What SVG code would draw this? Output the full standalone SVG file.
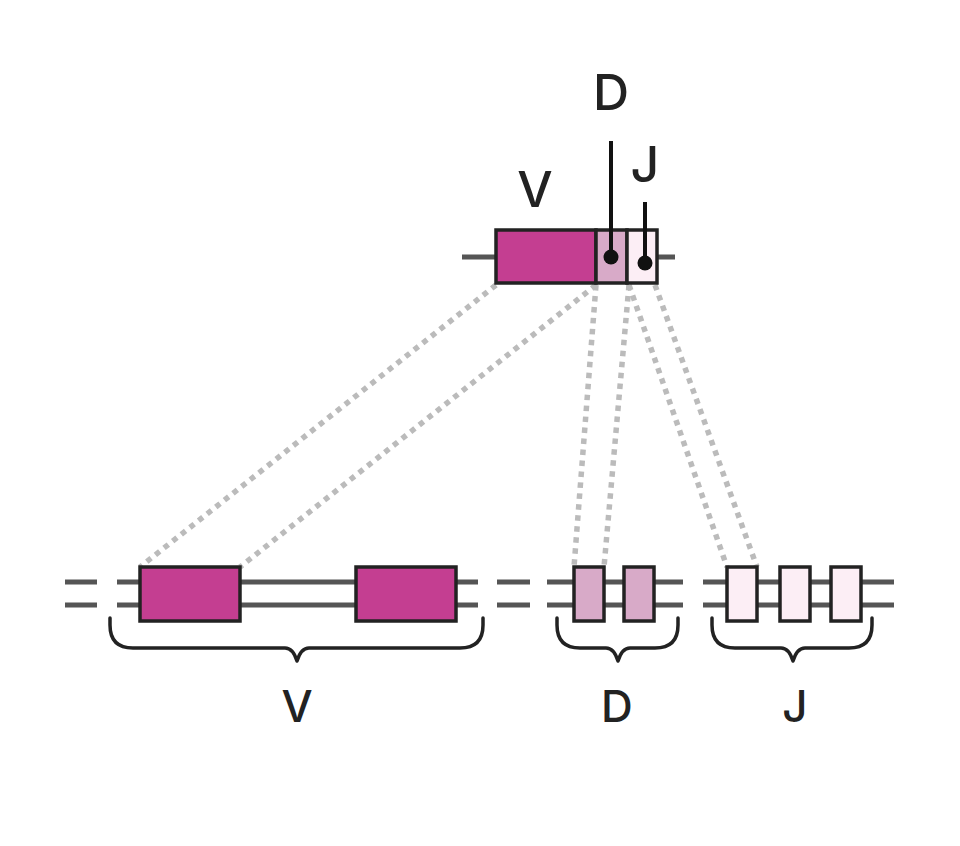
<svg xmlns="http://www.w3.org/2000/svg" width="960" height="846" viewBox="0 0 960 846">
<style>
.bg{fill:#fff}
.dna{stroke:#555;stroke-width:5;fill:none}
.seg{stroke:#222;stroke-width:3.5}
.v{fill:#C43E91}
.d{fill:#D8AAC8}
.j{fill:#FCEEF5}
.dot{stroke:#bbb;stroke-width:5.5;stroke-dasharray:5.5 5.5;fill:none}
.brace{stroke:#222;stroke-width:3.5;fill:none;stroke-linecap:round;stroke-linejoin:round}
.stick{stroke:#111;stroke-width:4}
.lbl{font-family:Inter,"Liberation Sans",sans-serif;font-weight:500;fill:#222;text-anchor:middle}
.big{font-size:50px}
.sm{font-size:44px}
</style>
<rect class="bg" width="960" height="846"/>
<g id="connectors">
<line class="dot" x1="496" y1="285" x2="140" y2="567"/>
<line class="dot" x1="596" y1="285" x2="240" y2="567"/>
<line class="dot" x1="596" y1="285" x2="574" y2="567"/>
<line class="dot" x1="629" y1="285" x2="604" y2="567"/>
<line class="dot" x1="629" y1="285" x2="727" y2="567"/>
<line class="dot" x1="655" y1="285" x2="757" y2="567"/>
</g>
<g id="rearranged">
<line class="dna" x1="462" y1="257" x2="675" y2="257"/>
<rect class="seg v" x="496" y="230" width="100" height="53"/>
<rect class="seg d" x="596" y="230" width="31" height="53"/>
<rect class="seg j" x="627" y="230" width="30" height="53"/>
<line class="stick" x1="611" y1="141" x2="611" y2="257"/>
<circle cx="611" cy="257" r="7.5" fill="#111"/>
<line class="stick" x1="645" y1="202" x2="645" y2="263"/>
<circle cx="645" cy="263" r="7.5" fill="#111"/>
<text class="lbl big" x="535" y="207">V</text>
<text class="lbl big" x="611" y="110">D</text>
<text class="lbl big" x="645" y="182">J</text>
</g>
<g id="v-locus">
<path class="dna" d="M65 582H97M65 605H97M117 582H478M117 605H478"/>
<rect class="seg v" x="140" y="567" width="100" height="54"/>
<rect class="seg v" x="356" y="567" width="100" height="54"/>
<path class="brace" d="M110 618V625Q110 648 133 648H285Q293 648 297 661Q301 648 309 648H460Q483 648 483 625V618"/>
<text class="lbl sm" x="297" y="722">V</text>
</g>
<g id="d-locus">
<path class="dna" d="M497 582H530M497 605H530M547 582H683M547 605H683"/>
<rect class="seg d" x="574" y="567" width="30" height="54"/>
<rect class="seg d" x="624" y="567" width="30" height="54"/>
<path class="brace" d="M557 618V625Q557 648 580 648H606Q614 648 618 661Q622 648 630 648H655Q678 648 678 625V618"/>
<text class="lbl sm" x="617" y="722">D</text>
</g>
<g id="j-locus">
<path class="dna" d="M703 582H894M703 605H894"/>
<rect class="seg j" x="727" y="567" width="30" height="54"/>
<rect class="seg j" x="780" y="567" width="30" height="54"/>
<rect class="seg j" x="831" y="567" width="30" height="54"/>
<path class="brace" d="M712 618V625Q712 648 735 648H781Q789 648 793 661Q797 648 805 648H849Q872 648 872 625V618"/>
<text class="lbl sm" x="795" y="722">J</text>
</g>
</svg>
